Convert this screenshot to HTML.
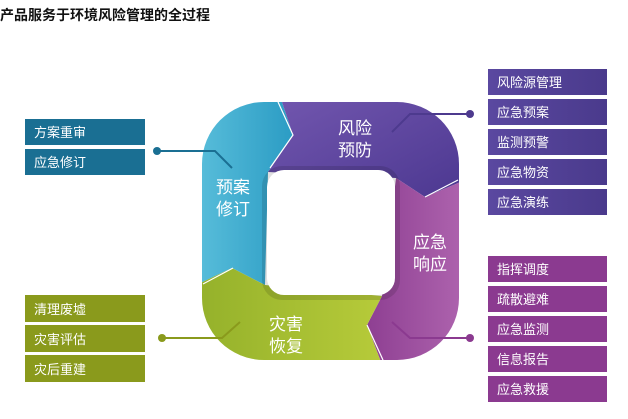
<!DOCTYPE html>
<html><head><meta charset="utf-8"><style>
html,body{margin:0;padding:0;background:#fff;}
body{width:628px;height:414px;overflow:hidden;font-family:"Liberation Sans","Noto Sans CJK SC",sans-serif;}
</style></head><body>
<svg width="628" height="414" viewBox="0 0 628 414" xmlns="http://www.w3.org/2000/svg" style="font-family:'Liberation Sans','Noto Sans CJK SC',sans-serif">
<defs>
<clipPath id="ring"><rect x="202" y="102" width="257" height="258" rx="62"/></clipPath>
<linearGradient id="gp" x1="0" y1="0" x2="1" y2="1"><stop offset="0" stop-color="#7458b0"/><stop offset="1" stop-color="#4b3790"/></linearGradient>
<linearGradient id="gm" x1="0" y1="0" x2="1" y2="0"><stop offset="0" stop-color="#8e3f92"/><stop offset="1" stop-color="#b066b0"/></linearGradient>
<linearGradient id="gg" x1="0" y1="0" x2="1" y2="0"><stop offset="0" stop-color="#93b02a"/><stop offset="1" stop-color="#b7cb3a"/></linearGradient>
<linearGradient id="gc" x1="0" y1="0" x2="1" y2="0"><stop offset="0" stop-color="#5cc0dc"/><stop offset="1" stop-color="#2b9cc4"/></linearGradient>
<linearGradient id="bp" x1="0" y1="0" x2="1" y2="0"><stop offset="0" stop-color="#5a48a0"/><stop offset="1" stop-color="#4a3a8c"/></linearGradient>
</defs>
<text x="0" y="20" font-size="14" font-weight="bold" fill="#111">产品服务于环境风险管理的全过程</text>
<g clip-path="url(#ring)">
<polygon fill="url(#gc)" points="190,90 278,90 293,135 268,172 265,285 232,268 190,288"/>
<polygon fill="url(#gp)" points="278,90 470,90 470,178 425,197 396,178 268,172 293,135"/>
<polygon fill="url(#gm)" points="470,178 470,370 384,370 367,325 382,296 396,178 425,197"/>
<polygon fill="url(#gg)" points="190,288 232,268 265,285 382,296 367,325 384,370 190,370"/>
<polyline points="278,102 293,135 270,168" fill="none" stroke="#fff" stroke-width="1.2"/>
<polyline points="458,180 425,197" fill="none" stroke="#fff" stroke-width="1.2"/>
<polyline points="367,325 383,360" fill="none" stroke="#fff" stroke-width="1.2"/>
<polyline points="203,284 233,268" fill="none" stroke="#fff" stroke-width="1.2"/>
</g>
<rect x="262" y="166" width="138" height="134" rx="20" fill="#000" opacity="0.12"/>
<rect x="267" y="170" width="128" height="125" rx="17" fill="#fff"/>
<g fill="#fff" font-size="17" text-anchor="middle">
<text x="355" y="134">风险</text><text x="355" y="156">预防</text>
<text x="430" y="248">应急</text><text x="430" y="270">响应</text>
<text x="286" y="330">灾害</text><text x="286" y="352">恢复</text>
<text x="233" y="193">预案</text><text x="233" y="215">修订</text>
</g>
<g fill="none" stroke-width="2">
<polyline points="470,114 410,114 392,132" stroke="#4d3a8e"/>
<polyline points="470,338 410,338 392,322" stroke="#8b3a90"/>
<polyline points="157,151 215,151 232,168" stroke="#1a6f93"/>
<polyline points="162,338 222,338 240,322" stroke="#8a9a1c"/>
</g>
<circle cx="470" cy="114" r="4" fill="#4d3a8e"/>
<circle cx="470" cy="338" r="4" fill="#8b3a90"/>
<circle cx="157" cy="151" r="4" fill="#1a6f93"/>
<circle cx="162" cy="338" r="4" fill="#8a9a1c"/>
<g font-size="13" fill="#fff">
<rect x="488" y="69" width="119" height="26" fill="url(#bp)"/><text x="497" y="87">风险源管理</text>
<rect x="488" y="99" width="119" height="26" fill="url(#bp)"/><text x="497" y="117">应急预案</text>
<rect x="488" y="129" width="119" height="26" fill="url(#bp)"/><text x="497" y="147">监测预警</text>
<rect x="488" y="159" width="119" height="26" fill="url(#bp)"/><text x="497" y="177">应急物资</text>
<rect x="488" y="189" width="119" height="26" fill="url(#bp)"/><text x="497" y="207">应急演练</text>
<rect x="488" y="256" width="119" height="26" fill="#8b3a90"/><text x="497" y="274">指挥调度</text>
<rect x="488" y="286" width="119" height="26" fill="#8b3a90"/><text x="497" y="304">疏散避难</text>
<rect x="488" y="316" width="119" height="26" fill="#8b3a90"/><text x="497" y="334">应急监测</text>
<rect x="488" y="346" width="119" height="26" fill="#8b3a90"/><text x="497" y="364">信息报告</text>
<rect x="488" y="376" width="119" height="26" fill="#8b3a90"/><text x="497" y="394">应急救援</text>
<rect x="25" y="119" width="120" height="26" fill="#1a6f93"/><text x="34" y="137">方案重审</text>
<rect x="25" y="149" width="120" height="26" fill="#1a6f93"/><text x="34" y="167">应急修订</text>
<rect x="25" y="295" width="120" height="27" fill="#8a9a1c"/><text x="34" y="314">清理废墟</text>
<rect x="25" y="325" width="120" height="27" fill="#8a9a1c"/><text x="34" y="344">灾害评估</text>
<rect x="25" y="355" width="120" height="27" fill="#8a9a1c"/><text x="34" y="374">灾后重建</text>
</g>
</svg>
</body></html>
